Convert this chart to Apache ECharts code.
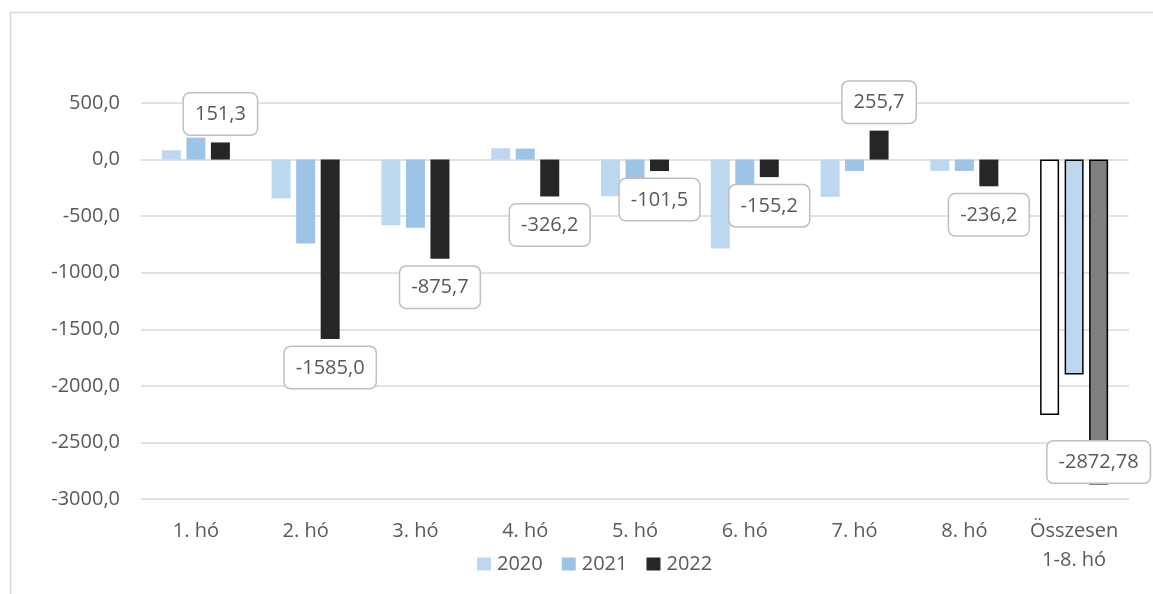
<!DOCTYPE html>
<html>
<head>
<meta charset="utf-8">
<script src="https://cdn.jsdelivr.net/npm/echarts@6/dist/echarts.min.js"></script>
<style>
    html, body { margin: 0; padding: 0; background: #fff; }
    #chart { width: 1153px; height: 594px; }
</style>
</head>
<body>
<div id="chart"></div>
<script>
const categories = ['1. hó', '2. hó', '3. hó', '4. hó', '5. hó', '6. hó', '7. hó', '8. hó', 'Összesen\n1-8. hó'];
const years = ['2020', '2021', '2022'];
const values2020 = [82, -344, -580, 100, -324, -785, -330, -100, -2258];
const values2021 = [194, -741, -603, 97, -220, -250, -100, -100, -1900];
const values2022 = [151.3, -1585.0, -875.7, -326.2, -101.5, -155.2, 255.7, -236.2, -2872.78];
const yTicks = [-3000, -2500, -2000, -1500, -1000, -500, 0, 500];

const colors = ['#BDD7EE', '#9DC3E6', '#262626'];
// the total column is drawn in its own style
const totalStyles = [
    { color: '#FFFFFF', borderColor: '#000', borderWidth: 1.5 },
    { color: '#BDD7EE', borderColor: '#000', borderWidth: 1.5 },
    { color: '#7F7F7F', borderColor: '#000', borderWidth: 1.5 },
];
const lastIdx = categories.length - 1;
const fontFamily = '"Open Sans", sans-serif';
const textColor = '#595959';

const fmt = (v, d) => v.toFixed(d).replace('.', ',');

const buildData = (values, s) => values.map((v, i) => {
    const item = { value: v };
    if (i === lastIdx) item.itemStyle = totalStyles[s];
    if (s === 2) {
        item.label = {
            show: true,
            position: i === lastIdx ? 'insideBottom' : 'outside',
            distance: i === lastIdx ? 2 : 8,
        };
    }
    return item;
});

const chart = echarts.init(document.getElementById('chart'));

const option = {
    animation: false,
    textStyle: { fontFamily: fontFamily },
    graphic: [{
        type: 'rect',
        left: 8,
        top: 10,
        shape: { width: 1300, height: 700 },
        style: { fill: 'none', stroke: '#D9D9D9', lineWidth: 1.5 },
        silent: true,
    }],
    legend: {
        data: years,
        left: 472,
        top: 549,
        itemWidth: 14,
        itemHeight: 13,
        itemGap: 19,
        icon: 'rect',
        textStyle: { fontSize: 20, color: textColor, fontFamily: fontFamily, padding: [0, 0, 0, 1] },
    },
    grid: {
        left: 141,
        right: 24,
        top: 103,
        bottom: 95,
    },
    xAxis: {
        type: 'category',
        data: categories,
        axisLine: { show: false },
        axisTick: { show: false },
        axisLabel: {
            interval: 0,
            margin: 18,
            fontSize: 20,
            lineHeight: 29,
            color: textColor,
            fontFamily: fontFamily,
        },
    },
    yAxis: {
        type: 'value',
        min: yTicks[0],
        max: yTicks[yTicks.length - 1],
        interval: 500,
        axisLine: { show: false },
        axisTick: { show: false },
        axisLabel: {
            margin: 21,
            fontSize: 20,
            color: textColor,
            fontFamily: fontFamily,
            formatter: (v) => fmt(v, 1),
        },
        splitLine: { lineStyle: { color: '#D9D9D9', width: 1.5 } },
    },
    series: [values2020, values2021, values2022].map((vals, s) => ({
        name: years[s],
        type: 'bar',
        barWidth: 19,
        barGap: '29%',
        itemStyle: { color: colors[s] },
        data: buildData(vals, s),
        label: {
            show: s === 2,
            fontSize: 20,
            color: textColor,
            fontFamily: fontFamily,
            backgroundColor: '#fff',
            borderColor: '#BFBFBF',
            borderWidth: 1.5,
            borderRadius: 6,
            padding: [11, 11, 10, 11],
            formatter: (p) => fmt(p.value, p.dataIndex === lastIdx ? 2 : 1),
        },
        z: s === 2 ? 3 : 2,
    })),
};

chart.setOption(option);
window.addEventListener('resize', () => chart.resize());
</script>
</body>
</html>
